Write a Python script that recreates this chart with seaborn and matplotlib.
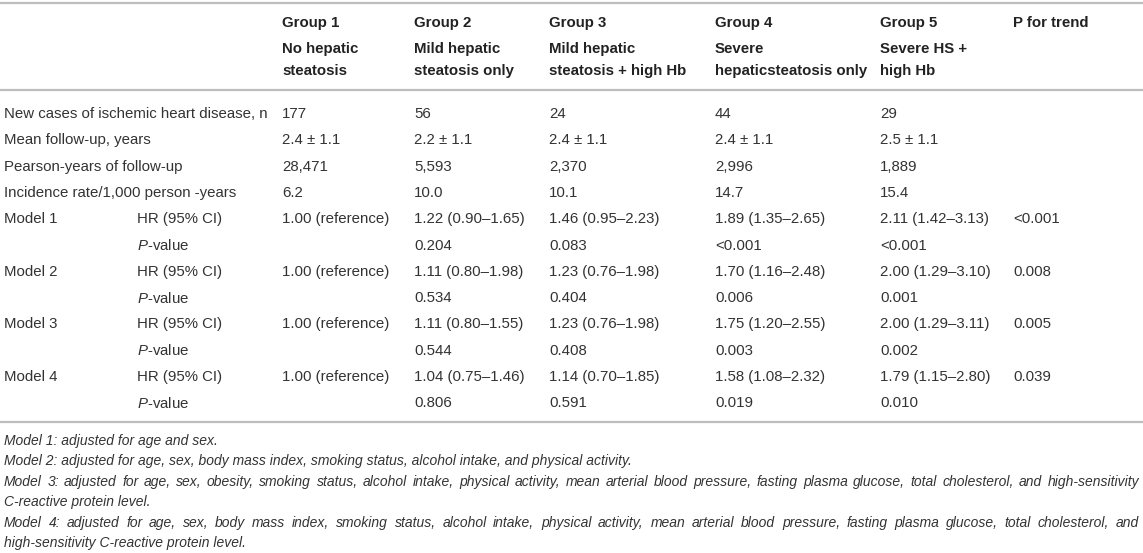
import matplotlib
matplotlib.use("Agg")
import matplotlib.pyplot as plt
import seaborn as sns

sns.set_theme(style="white")
plt.rcParams["font.family"] = ["Liberation Sans", "DejaVu Sans"]
plt.rcParams["mathtext.fontset"] = "custom"
plt.rcParams["mathtext.rm"] = "Liberation Sans"
plt.rcParams["mathtext.it"] = "Liberation Sans:italic"

# ---------------- data ----------------
groups = ["Group 1", "Group 2", "Group 3", "Group 4", "Group 5"]
group_desc_line1 = ["No hepatic", "Mild hepatic", "Mild hepatic", "Severe", "Severe HS +"]
group_desc_line2 = ["steatosis", "steatosis only", "steatosis + high Hb",
                    "hepaticsteatosis only", "high Hb"]
trend_header = "P for trend"

row_labels = ["New cases of ischemic heart disease, n",
              "Mean follow-up, years",
              "Pearson-years of follow-up",
              "Incidence rate/1,000 person -years"]
new_cases = [177, 56, 24, 44, 29]
followup_mean = [2.4, 2.2, 2.4, 2.4, 2.5]
followup_sd = [1.1, 1.1, 1.1, 1.1, 1.1]
person_years = [28471, 5593, 2370, 2996, 1889]
incidence = [6.2, 10.0, 10.1, 14.7, 15.4]

models = ["Model 1", "Model 2", "Model 3", "Model 4"]
hr_model1 = ["1.00 (reference)", "1.22 (0.90–1.65)", "1.46 (0.95–2.23)", "1.89 (1.35–2.65)", "2.11 (1.42–3.13)"]
hr_model2 = ["1.00 (reference)", "1.11 (0.80–1.98)", "1.23 (0.76–1.98)", "1.70 (1.16–2.48)", "2.00 (1.29–3.10)"]
hr_model3 = ["1.00 (reference)", "1.11 (0.80–1.55)", "1.23 (0.76–1.98)", "1.75 (1.20–2.55)", "2.00 (1.29–3.11)"]
hr_model4 = ["1.00 (reference)", "1.04 (0.75–1.46)", "1.14 (0.70–1.85)", "1.58 (1.08–2.32)", "1.79 (1.15–2.80)"]
p_model1 = ["", "0.204", "0.083", "<0.001", "<0.001"]
p_model2 = ["", "0.534", "0.404", "0.006", "0.001"]
p_model3 = ["", "0.544", "0.408", "0.003", "0.002"]
p_model4 = ["", "0.806", "0.591", "0.019", "0.010"]
p_trend = ["<0.001", "0.008", "0.005", "0.039"]

footnote_lines = [
    ("Model 1: adjusted for age and sex.", False),
    ("Model 2: adjusted for age, sex, body mass index, smoking status, alcohol intake, and physical activity.", False),
    ("Model 3: adjusted for age, sex, obesity, smoking status, alcohol intake, physical activity, mean arterial blood pressure, fasting plasma glucose, total cholesterol, and high-sensitivity", True),
    ("C-reactive protein level.", False),
    ("Model 4: adjusted for age, sex, body mass index, smoking status, alcohol intake, physical activity, mean arterial blood pressure, fasting plasma glucose, total cholesterol, and", True),
    ("high-sensitivity C-reactive protein level.", False),
]

# ---------------- layout ----------------
W, H = 1143, 553
fig = plt.figure(figsize=(W / 100, H / 100), dpi=100)
ax = fig.add_axes([0, 0, 1, 1])
ax.set_xlim(0, W)
ax.set_ylim(H, 0)
ax.axis("off")

FS = 10.8
TXT = "#333333"
HEAD = "#222222"
RULE = "#bdbdbd"

x_label = 4
x_sub = 137
x_cols = [282, 414, 549, 715, 880]
x_trend = 1013

# rules
for yr in [3, 90, 422]:
    ax.axhline(yr, color=RULE, lw=1.6)

# header
y_h1, y_h2, y_h3 = 23, 49, 71
for x, g, d1, d2 in zip(x_cols, groups, group_desc_line1, group_desc_line2):
    ax.text(x, y_h1, g, fontsize=FS, fontweight="bold", color=HEAD, va="center")
    ax.text(x, y_h2, d1, fontsize=FS, fontweight="bold", color=HEAD, va="center")
    ax.text(x, y_h3, d2, fontsize=FS, fontweight="bold", color=HEAD, va="center")
ax.text(x_trend, y_h1, trend_header, fontsize=FS, fontweight="bold", color=HEAD, va="center")

# body
y0, dy = 114, 26.3
def cell(x, y, s, **kw):
    ax.text(x, y, s, fontsize=FS, color=TXT, va="center", **kw)

descriptive = [
    [f"{v}" for v in new_cases],
    [f"{m:.1f} ± {s:.1f}" for m, s in zip(followup_mean, followup_sd)],
    [f"{v:,}" for v in person_years],
    [f"{v:.1f}" for v in incidence],
]
row = 0
for lab, vals in zip(row_labels, descriptive):
    y = y0 + row * dy
    cell(x_label, y, lab)
    for x, v in zip(x_cols, vals):
        cell(x, y, v)
    row += 1

for m, hr, pv, pt in zip(models, [hr_model1, hr_model2, hr_model3, hr_model4],
                         [p_model1, p_model2, p_model3, p_model4], p_trend):
    y = y0 + row * dy
    cell(x_label, y, m)
    cell(x_sub, y, "HR (95% CI)")
    for x, v in zip(x_cols, hr):
        cell(x, y, v)
    cell(x_trend, y, pt)
    row += 1
    y = y0 + row * dy
    cell(x_sub, y, r"$\mathit{P}$-value")
    for x, v in zip(x_cols, pv):
        if v:
            cell(x, y, v)
    row += 1

# footnotes
FN = 10.0
fn_y0, fn_dy = 441, 20.4
fig.canvas.draw()
renderer = fig.canvas.get_renderer()
for i, (line, just) in enumerate(footnote_lines):
    y = fn_y0 + i * fn_dy
    kw = dict(fontsize=FN, style="italic", color=TXT, va="center")
    if not just:
        ax.text(x_label, y, line, **kw)
    else:
        words = line.split(" ")
        arts = [ax.text(0, y, w_, **kw) for w_ in words]
        widths = [a.get_window_extent(renderer).width for a in arts]
        gap = max((1139 - x_label - sum(widths)) / (len(words) - 1), 2.0)
        xx = x_label
        for a, wd in zip(arts, widths):
            a.set_x(xx)
            xx += wd + gap

fig.savefig("out.png", dpi=100)
